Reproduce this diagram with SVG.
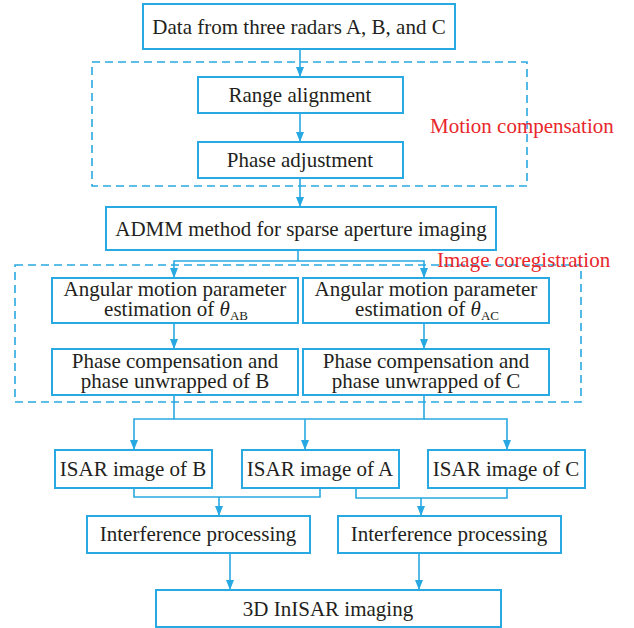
<svg xmlns="http://www.w3.org/2000/svg" width="634" height="628" viewBox="0 0 634 628">
<defs>
<marker id="ah" markerUnits="userSpaceOnUse" markerWidth="10" markerHeight="10" viewBox="0 0 10 10" refX="10" refY="5" orient="auto">
<path d="M0,1 L10,5 L0,9 Z" fill="#29a9e1"/>
</marker>
<style>
.box{fill:#fff;stroke:#29a9e1;stroke-width:2}
.dash{fill:none;stroke:#29a9e1;stroke-width:1.6;stroke-dasharray:8,5}
.c{fill:none;stroke:#29a9e1;stroke-width:1.6}
.a{fill:none;stroke:#29a9e1;stroke-width:1.6;marker-end:url(#ah)}
text{font-family:"Liberation Serif","Times New Roman",serif;font-size:21px;fill:#231f20}
.m{text-anchor:middle}
.red{fill:#e8262b}
</style>
</defs>
<rect width="634" height="628" fill="#fff"/>
<g id="groups">
<rect class="dash" x="92" y="62" width="435" height="124"/>
<text class="red" x="430" y="133">Motion compensation</text>
<rect class="dash" x="15" y="265" width="566" height="137"/>
<text class="red" x="437" y="267">Image coregistration</text>
</g>
<g id="connectors">
<line class="a" x1="300" y1="49" x2="300" y2="77"/>
<line class="a" x1="300" y1="113" x2="300" y2="142"/>
<line class="a" x1="300" y1="178" x2="300" y2="207"/>
<polyline class="c" points="298,250 298,261"/>
<polyline class="a" points="298,261 174,261 174,278"/>
<polyline class="a" points="298,261 424,261 424,278"/>
<line class="a" x1="174" y1="323" x2="174" y2="349"/>
<line class="a" x1="424" y1="323" x2="424" y2="349"/>
<polyline class="c" points="174,395 174,419 424,419 424,395"/>
<polyline class="a" points="174,419 134,419 134,450"/>
<line class="a" x1="305" y1="419" x2="305" y2="450"/>
<polyline class="a" points="424,419 507,419 507,450"/>
<polyline class="c" points="134,488 134,497 320,497 320,488"/>
<line class="a" x1="219" y1="497" x2="219" y2="516"/>
<polyline class="c" points="356,488 356,498 507,498 507,488"/>
<line class="a" x1="421" y1="498" x2="421" y2="516"/>
<line class="a" x1="230" y1="553" x2="230" y2="590"/>
<line class="a" x1="419" y1="553" x2="419" y2="590"/>
</g>
<g id="n1"><rect class="box" x="143" y="4" width="312" height="45"/><text class="m" x="299" y="34">Data from three radars A, B, and C</text></g>
<g id="n2"><rect class="box" x="198" y="77" width="205" height="36"/><text class="m" x="300" y="102">Range alignment</text></g>
<g id="n3"><rect class="box" x="198" y="142" width="205" height="36"/><text class="m" x="300" y="167">Phase adjustment</text></g>
<g id="n4"><rect class="box" x="106" y="207" width="390" height="43"/><text class="m" x="301" y="236">ADMM method for sparse aperture imaging</text></g>
<g id="n5"><rect class="box" x="52" y="278" width="246" height="45"/><text class="m" x="175" y="296">Angular motion parameter</text><text class="m" x="176" y="316">estimation of <tspan font-style="italic">θ</tspan><tspan font-size="13" dy="4">AB</tspan></text></g>
<g id="n6"><rect class="box" x="303" y="278" width="246" height="45"/><text class="m" x="426" y="296">Angular motion parameter</text><text class="m" x="427" y="316">estimation of <tspan font-style="italic">θ</tspan><tspan font-size="13" dy="4">AC</tspan></text></g>
<g id="n7"><rect class="box" x="52" y="349" width="246" height="46"/><text class="m" x="175" y="368">Phase compensation and</text><text class="m" x="175" y="388">phase unwrapped of B</text></g>
<g id="n8"><rect class="box" x="303" y="349" width="246" height="46"/><text class="m" x="426" y="368">Phase compensation and</text><text class="m" x="426" y="388">phase unwrapped of C</text></g>
<g id="n9"><rect class="box" x="55" y="450" width="157" height="38"/><text class="m" x="133" y="476">ISAR image of B</text></g>
<g id="n10"><rect class="box" x="242" y="450" width="157" height="38"/><text class="m" x="320" y="476">ISAR image of A</text></g>
<g id="n11"><rect class="box" x="428" y="450" width="157" height="38"/><text class="m" x="506" y="476">ISAR image of C</text></g>
<g id="n12"><rect class="box" x="87" y="516" width="223" height="37"/><text class="m" x="198" y="541">Interference processing</text></g>
<g id="n13"><rect class="box" x="338" y="516" width="223" height="37"/><text class="m" x="449" y="541">Interference processing</text></g>
<g id="n14"><rect class="box" x="156" y="590" width="345" height="37"/><text class="m" x="328" y="616">3D InISAR imaging</text></g>
</svg>
